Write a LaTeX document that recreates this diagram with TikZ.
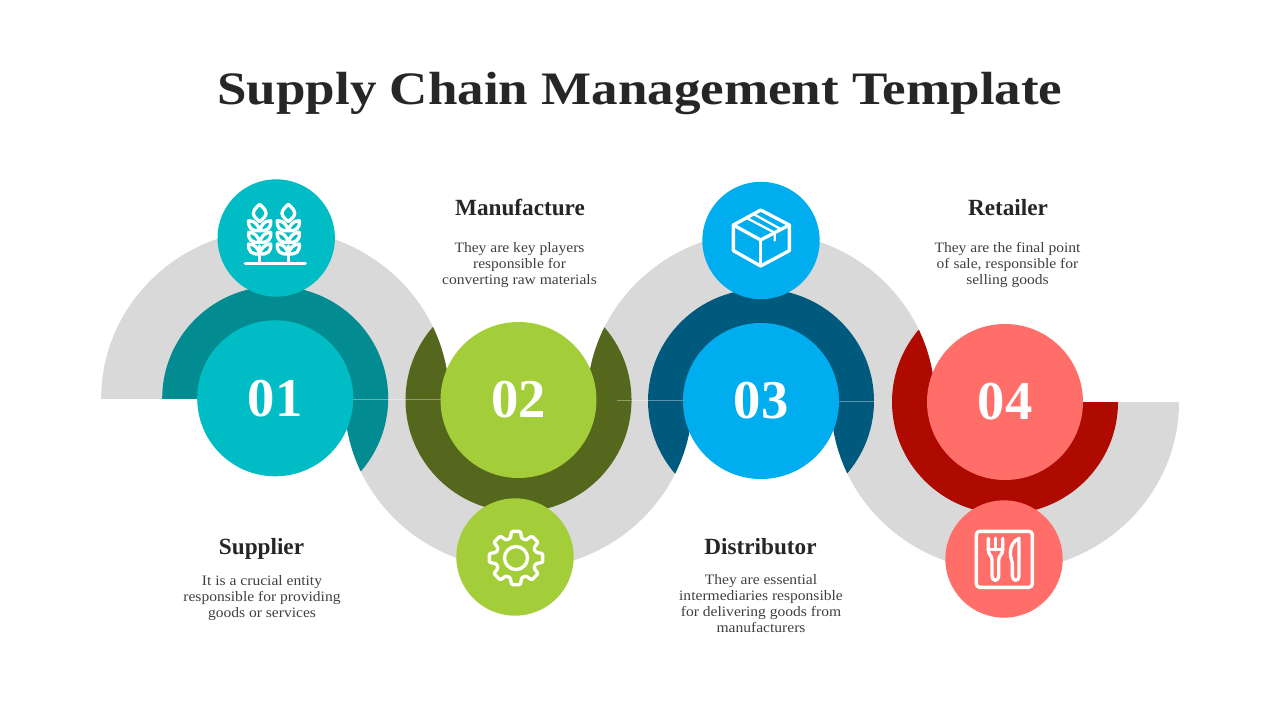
\documentclass[tikz,border=0pt]{standalone}
\usepackage{fontspec}
\setmainfont{Liberation Serif}
\newfontfamily\titlefont[FakeStretch=1.14]{Liberation Serif}
\newfontfamily\bodyfont[FakeStretch=1.08]{Liberation Serif}
\definecolor{tealL}{HTML}{00BCC4}
\definecolor{tealD}{HTML}{028C92}
\definecolor{greenL}{HTML}{A4CE39}
\definecolor{greenD}{HTML}{54671C}
\definecolor{blueL}{HTML}{00AEEF}
\definecolor{blueD}{HTML}{005A7D}
\definecolor{redL}{HTML}{FF6E69}
\definecolor{redD}{HTML}{AE0A00}
\definecolor{wavegray}{HTML}{D9D9D9}
\definecolor{titleink}{HTML}{262626}
\definecolor{bodyink}{HTML}{404040}
\newcommand{\wavefill}{%
  \begin{scope}\clip (0,0) rectangle (1280,398.2); \fill (275.2,398.3) ellipse[x radius=174,y radius=169]; \end{scope}
  \begin{scope}\clip (300,398) rectangle (740,720); \fill (518.5,400) ellipse[x radius=174,y radius=169]; \end{scope}
  \begin{scope}\clip (500,0) rectangle (1000,402.3); \fill (761,401) ellipse[x radius=174,y radius=169]; \end{scope}
  \begin{scope}\clip (800,402.3) rectangle (1280,720); \fill (1005,402) ellipse[x radius=174,y radius=169]; \end{scope}
}
\newcommand{\darkpart}[3]{%
  \begin{scope}[fill=#3]\clip (#1,#2) ellipse[x radius=113,y radius=112]; \wavefill \end{scope}
}
\newcommand{\wheatear}{%
  \draw[iconline] (0,0) -- (0,-52);
  \draw[iconline] (0,-125) .. controls (-12,-135) and (-19,-142) .. (-19,-150) .. controls (-19,-160) and (-8,-170) .. (0,-177) .. controls (8,-170) and (19,-160) .. (19,-150) .. controls (19,-142) and (12,-135) .. (0,-125) -- cycle;
  \foreach \ly in {-28,-63,-98}{
    \draw[iconline] (0,\ly) .. controls (-4,\ly-16) and (-14,\ly-30) .. (-33,\ly-30) .. controls (-35,\ly-8) and (-24,\ly+2) .. (0,\ly) -- cycle;
    \draw[iconline] (0,\ly) .. controls (4,\ly-16) and (14,\ly-30) .. (33,\ly-30) .. controls (35,\ly-8) and (24,\ly+2) .. (0,\ly) -- cycle;
  }
}
\tikzset{
  iconline/.style={draw=white,line width=2.5pt,line join=round,line cap=round},
  titletext/.style={font=\titlefont\bfseries\fontsize{36}{40}\selectfont,text=titleink,anchor=base},
  headtext/.style={font=\bfseries\fontsize{17.4}{20}\selectfont,text=titleink,anchor=base},
  bodytext/.style={font=\bodyfont\fontsize{10.8}{12}\selectfont,text=bodyink,align=center},
  numtext/.style={font=\bfseries\fontsize{41}{46}\selectfont,text=white},
  bigdisc/.style={circle,minimum size=117pt,inner sep=0pt},
  smalldisc/.style={circle,minimum size=88pt,inner sep=0pt},
  seam/.style={draw=white,opacity=.35,line width=.45pt}
}
\begin{document}
\begin{tikzpicture}[x=0.75pt,y=-0.75pt]
\useasboundingbox (0,0) rectangle (1280,720);
\fill[white] (0,0) rectangle (1280,720);
% wave band
\begin{scope}[fill=wavegray]\wavefill\end{scope}
% dark parts
\darkpart{275.2}{398.3}{tealD}
\darkpart{518.5}{400}{greenD}
\darkpart{761}{401}{blueD}
\darkpart{1005}{402}{redD}
% seams
\draw[seam] (353,399.2) -- (441,399.2);
\draw[seam] (617,400.4) -- (684,400.4);
\draw[seam] (839,401.5) -- (875,401.5);
% number discs
\node[bigdisc,fill=tealL,numtext] (n1) at (275.2,398.3) {01};
\node[bigdisc,fill=greenL,numtext] (n2) at (518.5,400) {02};
\node[bigdisc,fill=blueL,numtext] (n3) at (761,401) {03};
\node[bigdisc,fill=redL,numtext] (n4) at (1005,402) {04};
% icon discs
\node[smalldisc,fill=tealL] (i1) at (276.2,238) {};
\node[smalldisc,fill=greenL] (i2) at (515,557) {};
\node[smalldisc,fill=blueL] (i3) at (761,240.5) {};
\node[smalldisc,fill=redL] (i4) at (1004,559) {};
% wheat icon
\begin{scope}[shift={(217,180)},scale=1/3]
  \draw[iconline] (85,250) -- (265,250);
  \begin{scope}[shift={(128,250)}]\wheatear\end{scope}
  \begin{scope}[shift={(214,250)}]\wheatear\end{scope}
\end{scope}
% gear icon
\begin{scope}[shift={(516,558)}]
  \draw[iconline,rounded corners=.8pt] (-16:20.5)
    \foreach \a in {0,45,...,315}{ -- (\a-16:20.5) -- (\a-9.5:27) -- (\a+9.5:27) -- (\a+16:20.5) } -- cycle;
  \draw[iconline] (0,0) circle[radius=11.5];
\end{scope}
% box icon
\begin{scope}[shift={(700,180)},scale=1/3]
  \draw[iconline] (182,90) -- (268,135) -- (268,212) -- (182,258) -- (100,212) -- (100,135) -- cycle;
  \draw[iconline] (100,135) -- (182,180) -- (268,135);
  \draw[iconline] (182,180) -- (182,258);
  \draw[iconline,line width=1.7pt] (138,113) -- (224,158) -- (224,182);
  \draw[iconline,line width=1.7pt] (160,102) -- (240,146);
\end{scope}
% fork and knife icon
\begin{scope}[shift={(945,500)},scale=1/3]
  \draw[iconline,rounded corners=2.5pt] (94,94) rectangle (262,262);
  \draw[iconline] (130,115) -- (130,150) .. controls (130,165) and (141,165) .. (141,180) -- (141,228) .. controls (141,245) and (161,245) .. (161,228) -- (161,180) .. controls (161,165) and (173,165) .. (173,150) -- (173,115);
  \draw[iconline] (151,115) -- (151,150);
  \draw[iconline] (130,148) -- (173,148);
  \draw[iconline] (222,115) .. controls (205,122) and (196,140) .. (196,160) .. controls (196,175) and (202,180) .. (202,195) -- (202,228) .. controls (202,245) and (222,245) .. (222,228) -- cycle;
\end{scope}
% texts
\node[titletext] (title) at (640,105) {\resizebox{633.75pt}{!}{Supply Chain Management Template}};
\node[headtext] (h2) at (520,215) {Manufacture};
\node[bodytext] (b2) at (519.5,265) {They are key players\\responsible for\\converting raw materials};
\node[headtext] (h4) at (1008,215) {Retailer};
\node[bodytext] (b4) at (1007.5,265) {They are the final point\\of sale, responsible for\\selling goods};
\node[headtext] (h1) at (261.5,554) {Supplier};
\node[bodytext] (b1) at (262,598) {It is a crucial entity\\responsible for providing\\goods or services};
\node[headtext] (h3) at (760.5,554) {Distributor};
\node[bodytext] (b3) at (761,604) {They are essential\\intermediaries responsible\\for delivering goods from\\manufacturers};
\end{tikzpicture}
\end{document}
